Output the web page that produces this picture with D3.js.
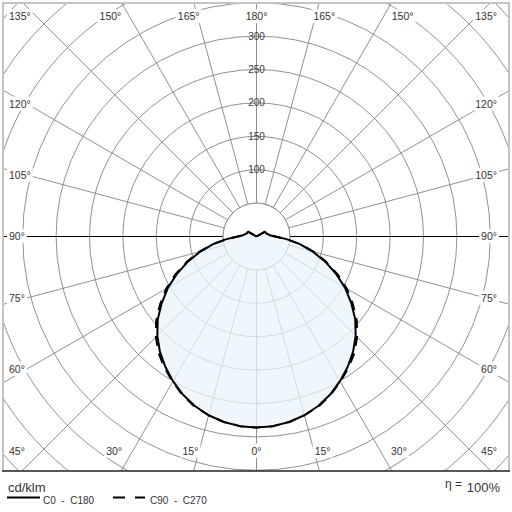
<!DOCTYPE html>
<html><head><meta charset="utf-8">
<script src="https://cdn.jsdelivr.net/npm/d3@7"></script>
<style>
html,body{margin:0;padding:0;background:#fff;}
svg{display:block;font-family:"Liberation Sans",Arial,sans-serif;}
</style></head>
<body>
<svg id="chart" width="512" height="512"></svg>
<script>
// ---- data (cd/klm) ----
const gammaAngles = [0,5,10,15,20,25,30,35,40,45,50,55,60,65,70,75,80,85,90,95,100,105,110,115,120,125,130,135,140,145,150,155,160,165,170,175,180];
const c0c180 =  [286,285,282,277,270,261,250,238,225,210,193,173,153,131,109,87,66,45,28,20,18,16,15,15,14,0,0,0,0,0,0,0,0,0,0,0,0];
const c90c270 = [286,285,282,277,271,262,251,240,228,213,196,176,156,134,111,89,67,45,28,20,18,16,15,15,14,0,0,0,0,0,0,0,0,0,0,0,0];
const gridValues = [50,100,150,200,250,300,350,400,450,500,550];
const scaleTicks = [100,150,200,250,300];
const angleTicks = [0,15,30,45,60,75,90,105,120,135,150,165,180];
const legendItems = ["C0  -  C180","C90  -  C270"];
const unitLabel = "cd/klm";
const efficiency = "100%";

// ---- layout ----
const W = 512, H = 512;
const cx = 256.5, cy = 236.5;
const box = {x0:3, y0:3, x1:509, y1:471};
const r = d3.scaleLinear().domain([0,300]).range([0,200.4]);
const rad = d => d*Math.PI/180;

const svg = d3.select("#chart");
svg.append("rect").attr("width",W).attr("height",H).attr("fill","#fff");

svg.append("defs").append("clipPath").attr("id","clip")
  .append("rect").attr("x",box.x0).attr("y",box.y0)
  .attr("width",box.x1-box.x0).attr("height",box.y1-box.y0);

const plot = svg.append("g").attr("clip-path","url(#clip)");
const g = plot.append("g").attr("transform",`translate(${cx},${cy})`);

// grid circles
g.selectAll("circle.grid").data(gridValues).join("circle")
  .attr("class","grid").attr("r",d=>r(d)).attr("fill","none")
  .attr("stroke","#858585").attr("stroke-width",0.9);

// radial lines every 15 deg on both sides
const radial = [];
angleTicks.forEach(a=>{ radial.push({a,s:-1}); if(a>0 && a<180) radial.push({a,s:1}); });
g.selectAll("line.rad").data(radial.filter(d=>d.a!==90)).join("line")
  .attr("class","rad")
  .attr("x1",d=>d.s*r(50)*Math.sin(rad(d.a))).attr("y1",d=>r(50)*Math.cos(rad(d.a)))
  .attr("x2",d=>d.s*r(700)*Math.sin(rad(d.a))).attr("y2",d=>r(700)*Math.cos(rad(d.a)))
  .attr("stroke","#858585").attr("stroke-width",0.9);

// 90 deg horizontal line (black)
[-1,1].forEach(s=>{
  g.append("line").attr("x1",s*r(50)).attr("x2",s*r(700)).attr("y1",0).attr("y2",0)
   .attr("stroke","#000").attr("stroke-width",1);
});

// inner circle (white)
g.append("circle").attr("r",r(50)).attr("fill","#fff").attr("stroke","#858585").attr("stroke-width",0.9);

// scale labels
g.selectAll("text.scale").data(scaleTicks).join("text")
  .attr("class","scale").attr("x",0).attr("y",d=>-r(d)).attr("dy","0.35em")
  .attr("text-anchor","middle").attr("font-size",10).attr("fill","#3a3a3a")
  .text(d=>d);

// angle labels
function labelPos(a,s){
  const sn=Math.sin(rad(a)), cs=Math.cos(rad(a));
  const yb=451, yt=16.5;
  if(a===0) return {x:cx,y:yb,anchor:"middle"};
  if(a===180) return {x:cx,y:yt,anchor:"middle"};
  if(a<45) return {x:cx+s*1.15*(yb-cy)*sn/cs,y:yb,anchor:"middle"};
  if(a>135) return {x:cx+s*1.15*(cy-yt)*sn/(-cs),y:yt,anchor:"middle"};
  let y = cy + 0.955*240.5*cs/sn;
  y = Math.max(yt, Math.min(yb, y));
  return {x: s<0 ? 9 : 497, y, anchor: s<0 ? "start":"end"};
}
const labels = [];
angleTicks.forEach(a=>{ labels.push({a,s:-1}); if(a>0 && a<180) labels.push({a,s:1}); });
const lg = plot.append("g");
labels.forEach(d=>{
  const p = labelPos(d.a,d.s);
  const grp = lg.append("g");
  const t = grp.append("text").attr("x",p.x).attr("y",p.y).attr("dy","0.35em")
    .attr("text-anchor",p.anchor).attr("font-size",10.5).attr("fill","#333")
    .text(d.a+"°");
  const bb = t.node().getBBox();
  grp.insert("rect","text").attr("x",bb.x-2).attr("y",bb.y-1)
    .attr("width",bb.width+4).attr("height",bb.height+2).attr("fill","#fff");
});

// intensity curves
function fullCurve(vals){
  const left = gammaAngles.map((a,i)=>({ang:Math.PI+rad(a), v:vals[i]})).reverse();
  const right = gammaAngles.slice(1).map((a,i)=>({ang:Math.PI-rad(a), v:vals[i+1]}));
  return left.concat(right);
}
const lineR = d3.lineRadial().angle(d=>d.ang).radius(d=>r(d.v)).curve(d3.curveLinear);
const cg = svg.append("g").attr("transform",`translate(${cx},${cy})`);
cg.append("path").datum(fullCurve(c90c270)).attr("d",d=>lineR(d)+"Z")
  .attr("fill","#eaf3fb").attr("fill-opacity",0.75).attr("stroke","none");
cg.append("path").datum(fullCurve(c90c270)).attr("d",lineR)
  .attr("fill","none").attr("stroke","#000").attr("stroke-width",2)
  .attr("stroke-dasharray","10,8").attr("stroke-linejoin","round");
cg.append("path").datum(fullCurve(c0c180)).attr("d",lineR)
  .attr("fill","none").attr("stroke","#000").attr("stroke-width",2)
  .attr("stroke-linejoin","round");

// border
svg.append("path").attr("d",`M${box.x0},${box.y1} V${box.y0} H${box.x1} V${box.y1}`)
  .attr("fill","none").attr("stroke","#c4c4c4").attr("stroke-width",2);
svg.append("line").attr("x1",box.x0-1).attr("x2",box.x1+1).attr("y1",box.y1).attr("y2",box.y1)
  .attr("stroke","#222").attr("stroke-width",1.6);

// legend
svg.append("text").attr("x",8).attr("y",491.5).attr("font-size",13).attr("fill","#333").text(unitLabel);
svg.append("line").attr("x1",7).attr("x2",40).attr("y1",497.5).attr("y2",497.5)
  .attr("stroke","#000").attr("stroke-width",2);
svg.append("text").attr("x",43).attr("y",504).attr("font-size",10).attr("fill","#333")
  .style("white-space","pre").text(legendItems[0]);
svg.append("line").attr("x1",113).attr("x2",145).attr("y1",497.5).attr("y2",497.5)
  .attr("stroke","#000").attr("stroke-width",2).attr("stroke-dasharray","12,10");
svg.append("text").attr("x",150).attr("y",504).attr("font-size",10).attr("fill","#333")
  .style("white-space","pre").text(legendItems[1]);
svg.append("text").attr("x",445).attr("y",488).attr("font-size",12).attr("fill","#333").text("η =");
svg.append("text").attr("x",500).attr("y",492).attr("text-anchor","end").attr("font-size",13).attr("fill","#333").text(efficiency);
</script>
</body></html>
